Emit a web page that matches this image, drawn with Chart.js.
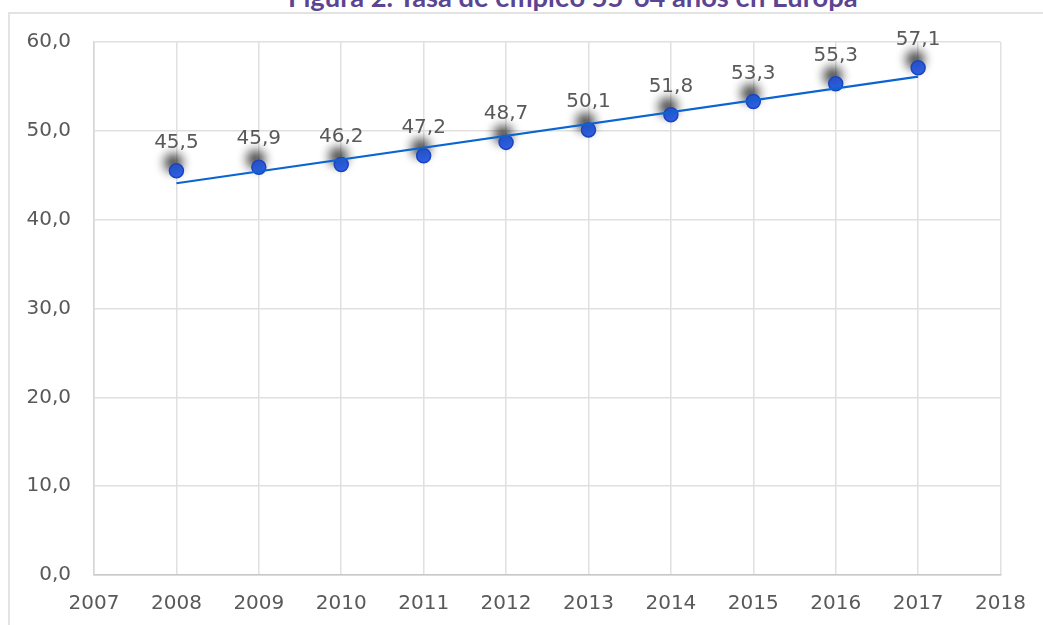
<!DOCTYPE html>
<html>
<head>
<meta charset="utf-8">
<script src="https://cdn.jsdelivr.net/npm/chart.js@4/dist/chart.umd.min.js"></script>
<style>
  html, body { margin: 0; padding: 0; background: #ffffff; }
  #wrap { position: relative; width: 1043px; height: 625px; overflow: hidden; }
  #frame { position: absolute; left: 8px; top: 12px; right: -10px; bottom: -10px;
           border-left: 2px solid #e3e3e3; border-top: 2px solid #e3e3e3; }
  #title { position: absolute; left: 288px; top: -17px; font-family: Lato, "Open Sans", sans-serif;
           font-weight: bold; font-size: 27.3px; line-height: 27.3px; color: #5b4593; white-space: nowrap; }
  canvas { position: absolute; left: 0; top: 0; }
</style>
</head>
<body>
<div id="wrap">
  <div id="frame"></div>
  <div id="title">Figura 2. Tasa de empleo 55-64 años en Europa</div>
  <canvas id="c" width="1043" height="625"></canvas>
</div>
<script>
const years = [2008, 2009, 2010, 2011, 2012, 2013, 2014, 2015, 2016, 2017];
const rates = [45.5, 45.9, 46.2, 47.2, 48.7, 50.1, 51.8, 53.3, 55.3, 57.1];
const trendYears = [2008, 2017];
const trendValues = [44.1, 56.1];
const xMin = 2007, xMax = 2018;
const yMin = 0, yMax = 60, yStep = 10;

const fmt = v => Number(v).toFixed(1).replace('.', ',');

const shadowPlugin = {
  id: 'pointShadow',
  beforeDatasetDraw(chart, args) {
    if (args.index !== 0) return;
    const ctx = chart.ctx;
    ctx.save();
    ctx.shadowColor = 'rgba(0,0,0,1)';
    ctx.shadowBlur = 12;
    ctx.shadowOffsetX = -3;
    ctx.shadowOffsetY = -8;
  },
  afterDatasetDraw(chart, args) {
    if (args.index !== 0) return;
    chart.ctx.restore();
  }
};

const labelPlugin = {
  id: 'valueLabels',
  afterDatasetsDraw(chart) {
    const ctx = chart.ctx;
    const meta = chart.getDatasetMeta(0);
    ctx.save();
    ctx.font = '20px "DejaVu Sans"';
    ctx.fillStyle = '#595959';
    ctx.textAlign = 'center';
    ctx.textBaseline = 'alphabetic';
    meta.data.forEach((pt, i) => {
      ctx.fillText(fmt(rates[i]), pt.x, pt.y - 23);
    });
    ctx.restore();
  }
};

new Chart(document.getElementById('c'), {
  type: 'scatter',
  data: {
    datasets: [
      {
        label: 'Tasa de empleo',
        data: years.map((y, i) => ({ x: y, y: rates[i] })),
        backgroundColor: '#2f62ea',
        borderColor: '#1c44bd',
        borderWidth: 1.5,
        pointRadius: 7,
        pointHoverRadius: 7,
        showLine: false,
        order: 1
      },
      {
        label: 'Tendencia',
        data: trendYears.map((y, i) => ({ x: y, y: trendValues[i] })),
        borderColor: '#0a64d2',
        borderWidth: 2.2,
        pointRadius: 0,
        showLine: true,
        fill: false,
        order: 0
      }
    ]
  },
  plugins: [shadowPlugin, labelPlugin],
  options: {
    responsive: false,
    animation: false,
    events: [],
    layout: { padding: { top: 42, right: 41, left: 0, bottom: 0 } },
    plugins: { legend: { display: false }, tooltip: { enabled: false }, title: { display: false } },
    scales: {
      x: {
        type: 'linear',
        min: xMin, max: xMax,
        afterFit(s) { s.height = 50; },
        ticks: {
          stepSize: 1,
          padding: 17,
          color: '#595959',
          font: { family: 'DejaVu Sans', size: 20 },
          callback: v => String(v)
        },
        grid: { color: '#e0e0e0', lineWidth: 1.5, drawTicks: false },
        border: { color: '#c8c8c8', width: 1.5 }
      },
      y: {
        min: yMin, max: yMax,
        afterFit(s) { s.width = 94; },
        ticks: {
          stepSize: yStep,
          padding: 23,
          color: '#595959',
          font: { family: 'DejaVu Sans', size: 20 },
          callback: v => fmt(v)
        },
        grid: { color: '#e0e0e0', lineWidth: 1.5, drawTicks: false },
        border: { color: '#d6d6d6', width: 1.5 }
      }
    }
  }
});
</script>
</body>
</html>
